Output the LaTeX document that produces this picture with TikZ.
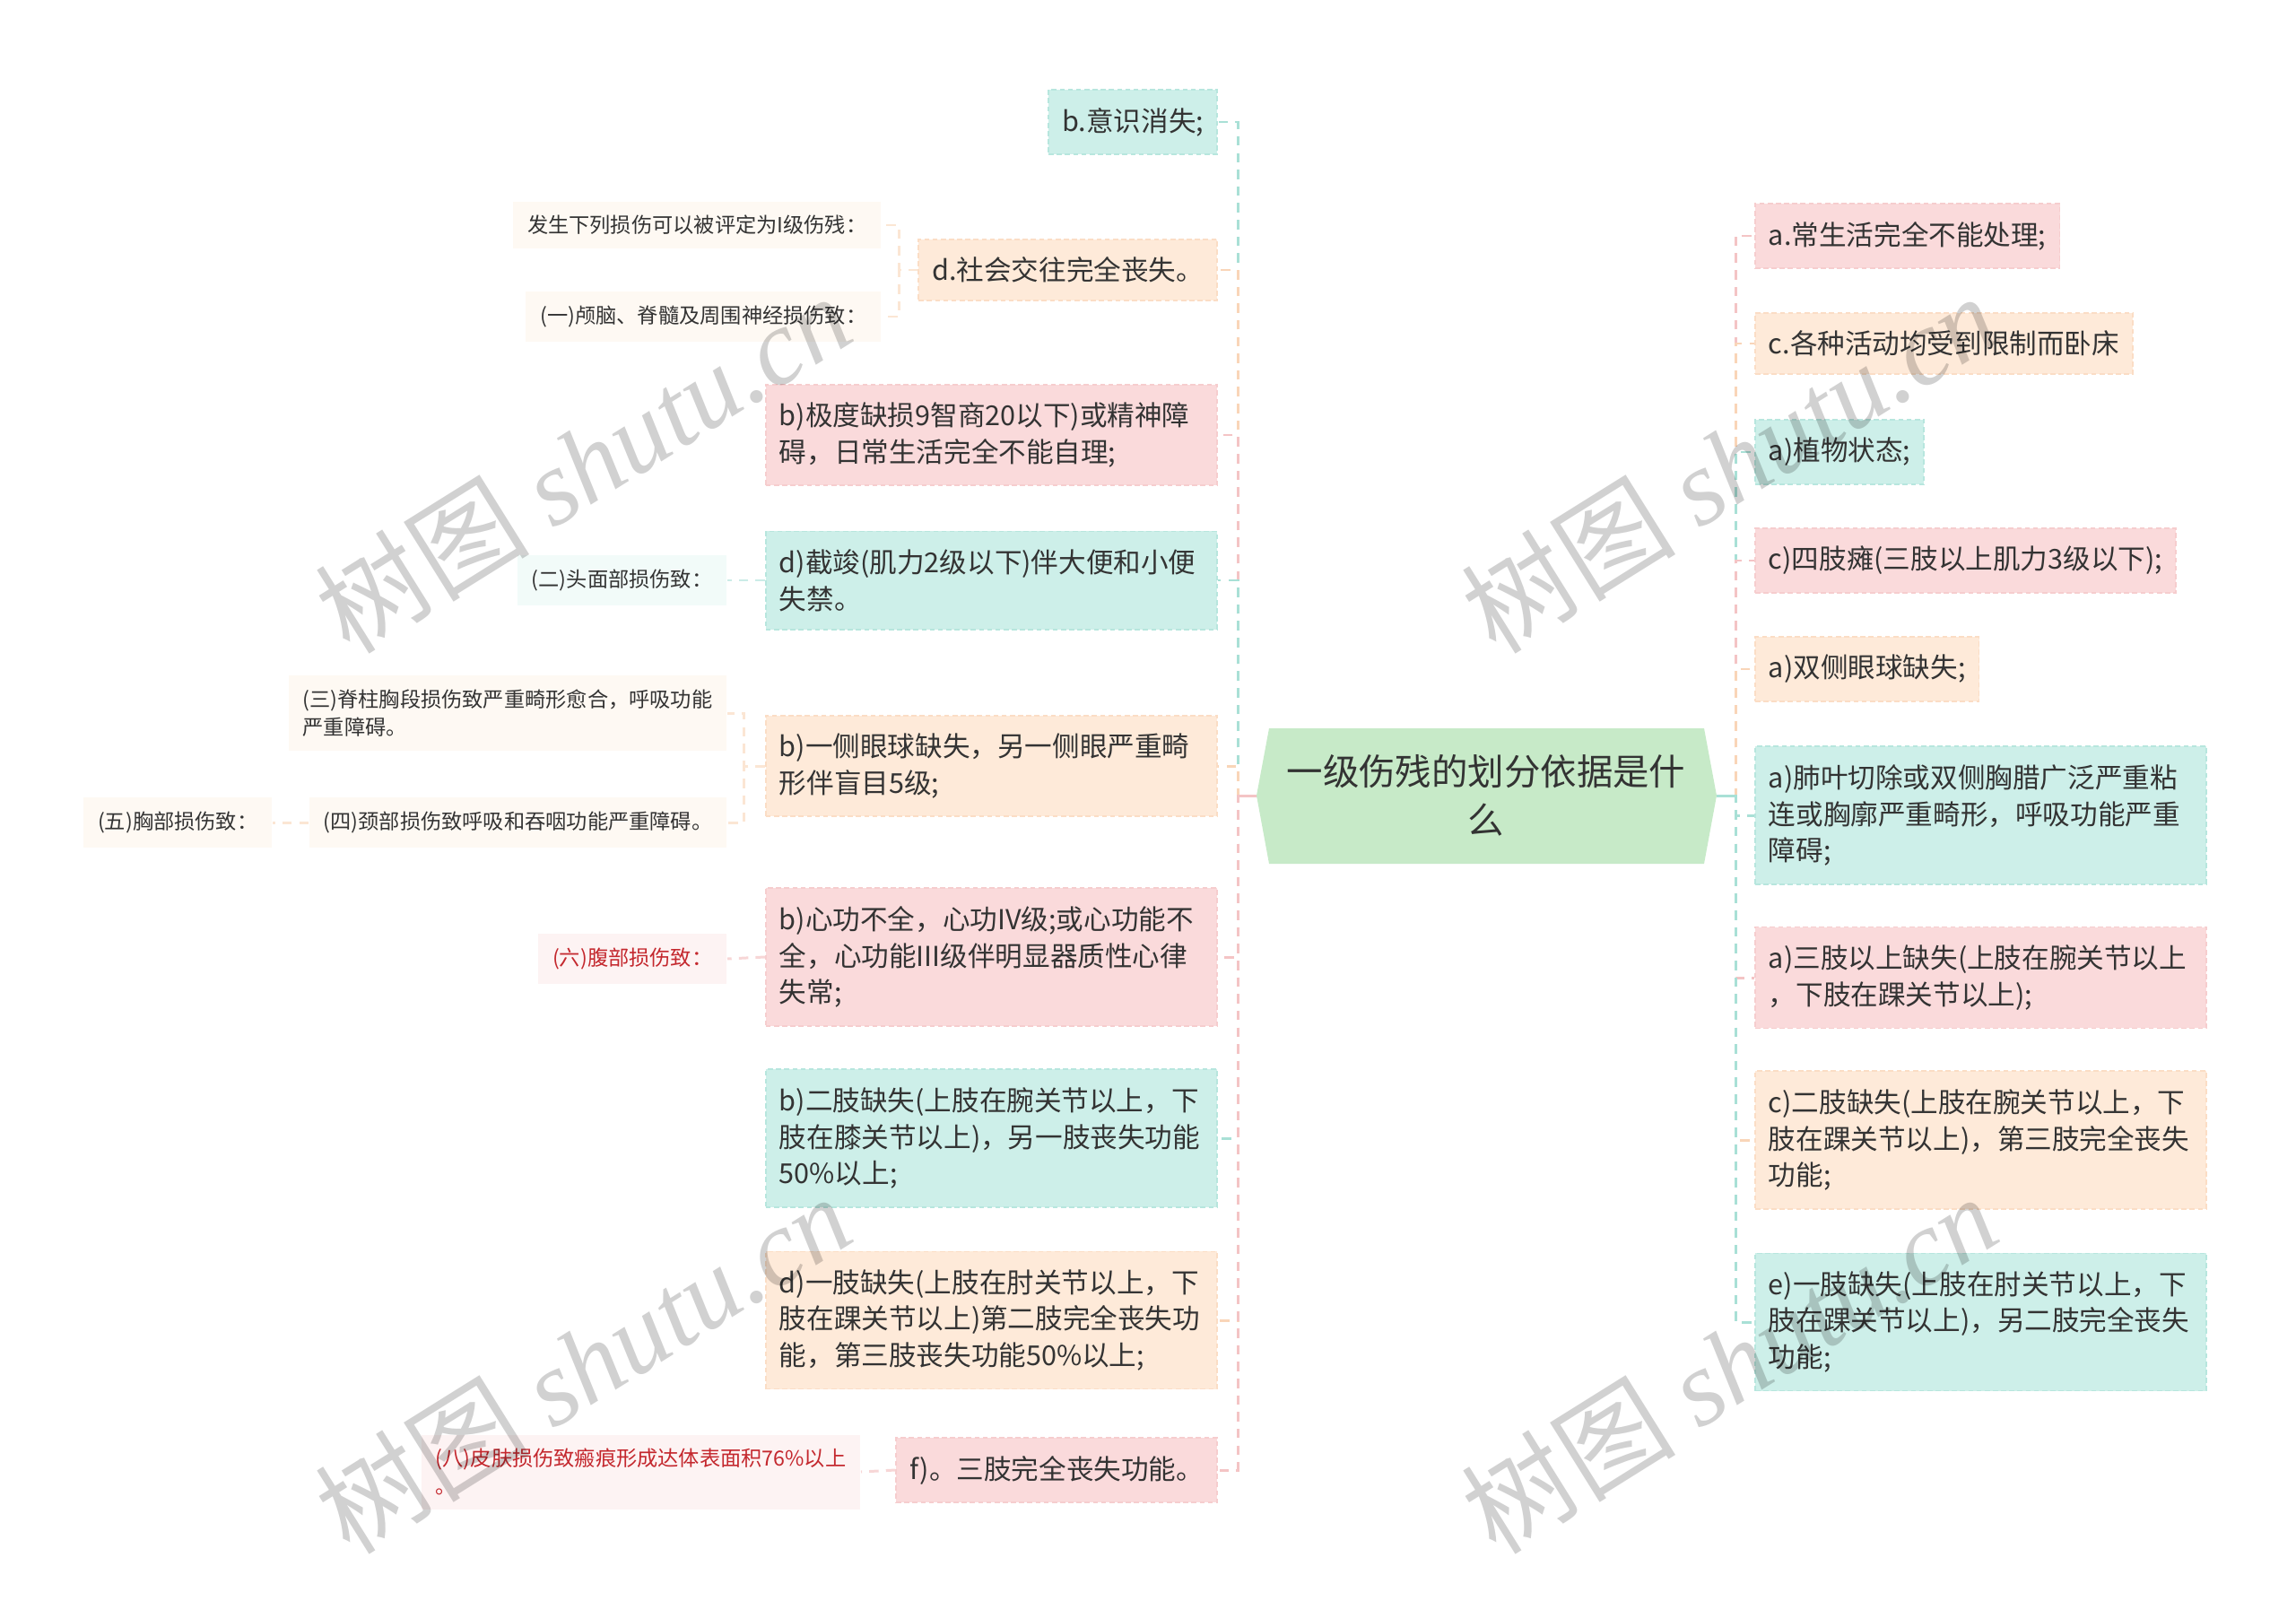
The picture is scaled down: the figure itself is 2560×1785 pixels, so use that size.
\documentclass[tikz,border=0pt]{standalone}
\usepackage{fontspec}
\setmainfont{Noto Sans CJK SC}
\newfontfamily\wmfont{Liberation Serif}
\usetikzlibrary{positioning}

\definecolor{txt}{HTML}{333333}
\definecolor{redtxt}{HTML}{C4282E}
\definecolor{rootfill}{HTML}{C7EAC8}
\definecolor{pinkfill}{HTML}{FADADB}
\definecolor{pinkline}{HTML}{F4C4C5}
\definecolor{tealfill}{HTML}{CDEFE9}
\definecolor{tealline}{HTML}{A9E0D6}
\definecolor{peachfill}{HTML}{FEEAD9}
\definecolor{peachline}{HTML}{F9D5B8}
\definecolor{subpeach}{HTML}{FEF9F3}
\definecolor{subteal}{HTML}{F2FBF9}
\definecolor{subpink}{HTML}{FDF3F3}

\begin{document}
\begin{tikzpicture}[x=0.01cm, y=-0.01cm,
    box/.style={rectangle, inner xsep=0.15cm, inner ysep=0.2cm, text=txt, align=left,
        font=\fontsize{8.7}{11.6}\selectfont, line width=0.5pt, dash pattern=on 1.6pt off 1pt},
    wide/.style={text width=4.73cm},
    pinkbox/.style={box, fill=pinkfill, draw=pinkline!60!pinkfill},
    tealbox/.style={box, fill=tealfill, draw=tealline!60!tealfill},
    peachbox/.style={box, fill=peachfill, draw=peachline!60!peachfill},
    sub/.style={rectangle, inner xsep=0.16cm, inner ysep=0.155cm, text=txt, align=left,
        font=\fontsize{6.6}{8.8}\selectfont},
    link/.style={line width=0.85pt, dash pattern=on 3pt off 2.3pt},
    wm/.style={text=black, text opacity=0.18, font=\fontsize{34}{38}\selectfont, rotate=32}]

\useasboundingbox (0,0) rectangle (2560,1785);

% root
\fill[rootfill] (1401,887) -- (1415,812) -- (1900,812) -- (1914,887) -- (1900,963) -- (1415,963) -- cycle;
\node[text=txt, align=center, font=\fontsize{11.5}{15.3}\selectfont] (root) at (1657,887) {一级伤残的划分依据是什\\么};
\coordinate (rootL) at (1401,887);
\coordinate (rootR) at (1914,887);
\coordinate (trunkL) at (1380,887);
\coordinate (trunkR) at (1935,887);

% left branches
\node[tealbox, anchor=east] (L1) at (1358,136) {b.意识消失;};
\node[peachbox, anchor=east] (L2) at (1358,301) {d.社会交往完全丧失。};
\node[pinkbox, wide, anchor=east] (L3) at (1358,485) {b)极度缺损9智商20以下)或精神障\\碍，日常生活完全不能自理;};
\node[tealbox, wide, anchor=east] (L4) at (1358,647) {d)截竣(肌力2级以下)伴大便和小便\\失禁。};
\node[peachbox, wide, anchor=east] (L5) at (1358,854) {b)一侧眼球缺失，另一侧眼严重畸\\形伴盲目5级;};
\node[pinkbox, wide, anchor=east] (L6) at (1358,1067) {b)心功不全，心功IV级;或心功能不\\全，心功能III级伴明显器质性心律\\失常;};
\node[tealbox, wide, anchor=east] (L7) at (1358,1269) {b)二肢缺失(上肢在腕关节以上，下\\肢在膝关节以上)，另一肢丧失功能\\50\%以上;};
\node[peachbox, wide, anchor=east] (L8) at (1358,1472) {d)一肢缺失(上肢在肘关节以上，下\\肢在踝关节以上)第二肢完全丧失功\\能，第三肢丧失功能50\%以上;};
\node[pinkbox, anchor=east] (L9) at (1358,1639) {f)。三肢完全丧失功能。};

% right branches
\node[pinkbox, anchor=west] (R1) at (1956,263) {a.常生活完全不能处理;};
\node[peachbox, anchor=west] (R2) at (1956,383) {c.各种活动均受到限制而卧床};
\node[tealbox, anchor=west] (R3) at (1956,504) {a)植物状态;};
\node[pinkbox, anchor=west] (R4) at (1956,625) {c)四肢瘫(三肢以上肌力3级以下);};
\node[peachbox, anchor=west] (R5) at (1956,746) {a)双侧眼球缺失;};
\node[tealbox, wide, anchor=west] (R6) at (1956,909) {a)肺叶切除或双侧胸腊广泛严重粘\\连或胸廓严重畸形，呼吸功能严重\\障碍;};
\node[pinkbox, wide, anchor=west] (R7) at (1956,1090) {a)三肢以上缺失(上肢在腕关节以上\\，下肢在踝关节以上);};
\node[peachbox, wide, anchor=west] (R8) at (1956,1271) {c)二肢缺失(上肢在腕关节以上，下\\肢在踝关节以上)，第三肢完全丧失\\功能;};
\node[tealbox, wide, anchor=west] (R9) at (1956,1474) {e)一肢缺失(上肢在肘关节以上，下\\肢在踝关节以上)，另二肢完全丧失\\功能;};

% sub topics
\node[sub, fill=subpeach, anchor=east] (S1) at (983,251) {发生下列损伤可以被评定为I级伤残：};
\node[sub, fill=subpeach, anchor=east] (S2) at (983,353) {(一)颅脑、脊髓及周围神经损伤致：};
\node[sub, fill=subteal, anchor=east] (S3) at (811,647) {(二)头面部损伤致：};
\node[sub, fill=subpeach, anchor=east] (S4) at (811,795) {(三)脊柱胸段损伤致严重畸形愈合，呼吸功能\\严重障碍。};
\node[sub, fill=subpeach, anchor=east] (S5) at (811,917) {(四)颈部损伤致呼吸和吞咽功能严重障碍。};
\node[sub, fill=subpeach, anchor=east] (S6) at (304,917) {(五)胸部损伤致：};
\node[sub, fill=subpink, text=redtxt, anchor=east] (S7) at (811,1069) {(六)腹部损伤致：};
\node[sub, fill=subpink, text=redtxt, anchor=east] (S8) at (960,1641) {(八)皮肤损伤致瘢痕形成达体表面积76\%以上\\。};

% connectors
\foreach \n/\c in {L1/tealline, L2/peachline, L3/pinkline, L4/tealline, L5/peachline,
                   L6/pinkline, L7/tealline, L8/peachline, L9/pinkline}
    \draw[link, \c] (rootL) -- (trunkL) |- (\n.east);
\foreach \n/\c in {R1/pinkline, R2/peachline, R3/tealline, R4/pinkline, R5/peachline,
                   R6/tealline, R7/pinkline, R8/peachline, R9/tealline}
    \draw[link, \c] (rootR) -- (trunkR) |- (\n.west);
\draw[pinkline, line width=0.85pt] (rootL) -- (trunkL);
\draw[tealline, line width=0.85pt] (rootR) -- (trunkR);

\draw[link, peachline!60] (L2.west) -- ++(-21,0) |- (S1.east);
\draw[link, peachline!60] (L2.west) -- ++(-21,0) |- (S2.east);
\draw[link, tealline!60] (L4.west) -- (S3.east);
\draw[link, peachline!60] (L5.west) -- ++(-23,0) |- (S4.east);
\draw[link, peachline!60] (L5.west) -- ++(-23,0) |- (S5.east);
\draw[link, peachline!60] (S5.west) -- (S6.east);
\draw[link, pinkline!70] (L6.west) -- (S7.east);
\draw[link, pinkline!70] (L9.west) -- (S8.east);

% watermark
\foreach \p [count=\i] in {(650,516), (650,1520), (1928,516), (1928,1520)}
    \node[wm] (wm\i) at \p {树图 {\wmfont\itshape shutu.cn}};

\end{tikzpicture}
\end{document}
